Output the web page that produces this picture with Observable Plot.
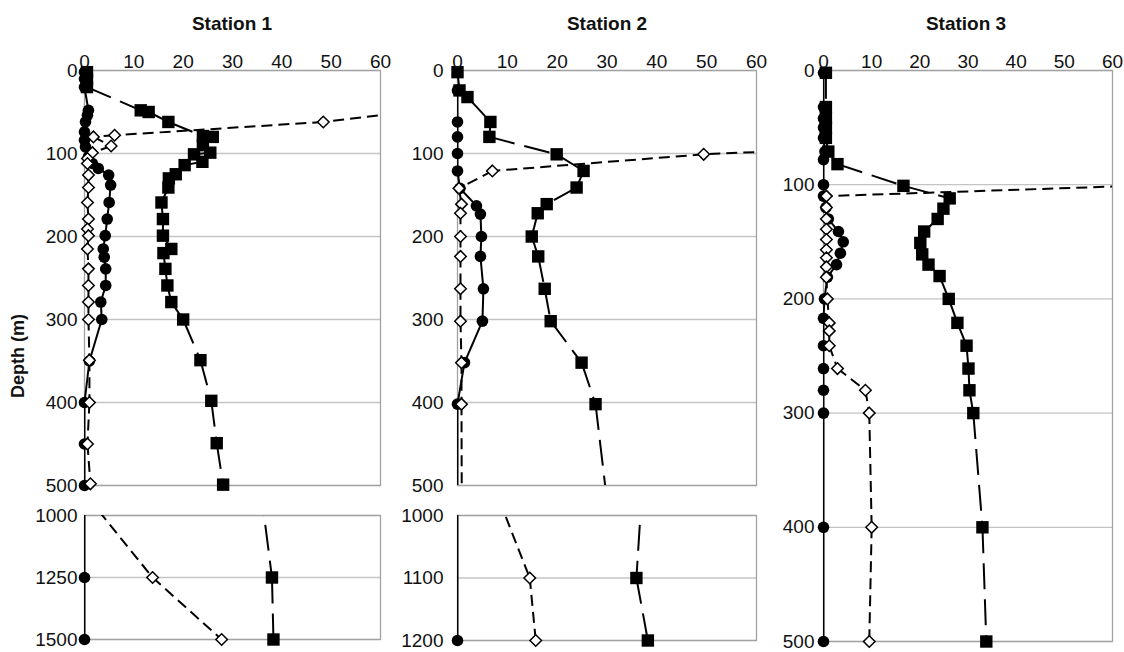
<!DOCTYPE html>
<html><head><meta charset="utf-8">
<script src="https://cdn.jsdelivr.net/npm/d3@7"></script>
<script src="https://cdn.jsdelivr.net/npm/@observablehq/plot@0.6"></script>
<style>
body{margin:0;background:#fff;font-family:Arial,"Liberation Sans",sans-serif;}
#wrap{position:relative;width:1124px;height:652px;overflow:hidden;background:#fff;}
.panel{position:absolute;}
.title{position:absolute;font-weight:bold;font-size:19px;transform:translateX(-50%);white-space:nowrap;color:#111;line-height:22px;}
.ylab{position:absolute;font-weight:bold;font-size:18px;transform:translate(-50%,-50%) rotate(-90deg);white-space:nowrap;color:#111;}
</style></head><body><div id="wrap"></div>
<script>
// ---- Data (depth in m, value) ----
const xTicks = [0, 10, 20, 30, 40, 50, 60];
const stationNames = ["Station 1", "Station 2", "Station 3"];

// Station 1
const s1SquareDepth = [2, 10, 20, 48, 50, 62, 79, 80, 90, 99, 101, 110, 114, 125, 130, 141, 159, 179, 199, 215, 220, 239, 259, 279, 300, 349, 398, 449, 499, 750, 1250, 1500];
const s1SquareValue = [0.5, 0.5, 0.5, 11.4, 13, 17, 24, 26, 24, 25.5, 22.2, 23.9, 20.3, 18.5, 17.1, 17, 15.6, 15.9, 15.9, 17.6, 16, 16.4, 16.8, 17.6, 20, 23.5, 25.7, 26.8, 28.1, 34.8, 38, 38.3];
const s1CircleDepth = [2, 10, 20, 48, 54, 62, 74, 84, 92, 104, 112, 118, 126, 138, 159, 179, 199, 215, 225, 239, 259, 279, 300, 350, 400, 450, 500, 1250, 1500];
const s1CircleValue = [0, 0, 0, 0.8, 0.6, 0.2, 0, 0, 0.2, 0.8, 1.6, 2.8, 4.9, 5.3, 5, 4.6, 4.2, 3.8, 4, 4.3, 4.3, 3.3, 3.5, 1, 0, 0, 0, 0, 0];
const s1DiamondDepth = [40, 62, 78, 80, 91, 99, 106, 112, 126, 141, 159, 179, 191, 199, 215, 239, 259, 279, 300, 349, 400, 450, 498, 930, 1250, 1500];
const s1DiamondValue = [80, 48.4, 6.1, 1.8, 5.4, 1.6, 0.6, 0.6, 0.8, 0.8, 0.6, 0.8, 0.6, 0.8, 0.6, 0.8, 0.8, 0.8, 0.8, 1, 1, 0.6, 1.2, 0.8, 13.8, 27.8];
const s1TopTicks = [0, 100, 200, 300, 400, 500];
const s1BottomTicks = [1000, 1250, 1500];

// Station 2
const s2SquareDepth = [2, 24, 32, 62, 80, 101, 121, 141, 161, 172, 200, 224, 263, 302, 352, 402, 900, 1100, 1200];
const s2SquareValue = [0, 0.4, 2, 6.6, 6.4, 19.9, 25.3, 23.9, 17.9, 16.1, 14.9, 16.2, 17.5, 18.7, 24.9, 27.7, 37.5, 35.9, 38.2];
const s2CircleDepth = [24, 62, 80, 100, 121, 142, 163, 173, 200, 224, 263, 302, 352, 402, 1200];
const s2CircleValue = [0, 0, 0, 0, 0, 0.5, 3.8, 4.6, 4.8, 4.6, 5.2, 5.0, 1.4, 0, 0];
const s2DiamondDepth = [93, 101, 121, 142, 161, 172, 200, 224, 263, 302, 352, 402, 825, 1100, 1200];
const s2DiamondValue = [80, 49.4, 7, 0.3, 0.8, 0.6, 0.6, 0.6, 0.6, 0.6, 0.8, 0.8, 1, 14.5, 15.7];
const s2TopTicks = [0, 100, 200, 300, 400, 500];
const s2BottomTicks = [1000, 1100, 1200];

// Station 3
const s3SquareDepth = [2, 32, 42, 50, 59, 71, 82, 101, 112, 121, 130, 141, 151, 161, 170, 180, 200, 221, 241, 261, 280, 300, 400, 500];
const s3SquareValue = [0.5, 0.5, 0.5, 0.5, 0.5, 1, 2.9, 16.6, 26.2, 24.9, 23.7, 20.9, 20.1, 20.5, 21.8, 24.1, 26, 27.8, 29.7, 30.1, 30.3, 31.1, 33, 33.8];
const s3CircleDepth = [2, 32, 42, 50, 59, 71, 78, 100, 110, 120, 130, 141, 150, 160, 170, 181, 200, 217, 241, 261, 280, 300, 400, 500];
const s3CircleValue = [0, 0, 0, 0, 0, 0.3, 0, 0, 0, 0.5, 1, 3.1, 4.1, 3.5, 2.7, 0.8, 0.2, 0, 0, 0, 0, 0, 0, 0];
const s3DiamondDepth = [89, 110, 120, 130, 139, 148, 157, 164, 172, 181, 200, 221, 228, 241, 261, 280, 300, 400, 500];
const s3DiamondValue = [150, 0.6, 0.6, 0.6, 0.6, 0.6, 0.6, 0.6, 0.6, 0.6, 0.8, 1.2, 1.2, 1.2, 2.9, 8.7, 9.5, 10, 9.5];
const s3Ticks = [0, 100, 200, 300, 400, 500];

// ---- helpers ----
function pts(depth, value) { return depth.map((d, i) => ({d, v: value[i]})); }
function segs(depth, value) {
  const s = [];
  for (let i = 0; i < depth.length - 1; i++) s.push({x1: value[i], y1: depth[i], x2: value[i + 1], y2: depth[i + 1]});
  return s;
}

function panel(cfg) {
  const [y0, y1] = cfg.yDomain;
  const inside = p => p.d >= y0 && p.d <= y1 && p.v >= 0 && p.v <= 60;
  const lineOpts = {x1: "x1", y1: "y1", x2: "x2", y2: "y2", stroke: "#000", strokeWidth: 2, clip: true};
  const marks = [
    Plot.gridY({ticks: cfg.yTicks, stroke: "#c4c4c4", strokeOpacity: 1, strokeWidth: 1.3}),
    Plot.frame({stroke: "#a2a2a2", strokeWidth: 1.3}),
    Plot.axisY({ticks: cfg.yTicks, tickSize: 0, tickPadding: cfg.pad, label: null, tickFormat: d => String(d)}),
    Plot.link(segs(cfg.circle[0], cfg.circle[1]), {...lineOpts}),
    Plot.link(segs(cfg.square[0], cfg.square[1]), {...lineOpts, strokeDasharray: "26,10"}),
    Plot.link(segs(cfg.diamond[0], cfg.diamond[1]), {...lineOpts, strokeDasharray: "11,6"}),
    Plot.dot(pts(cfg.circle[0], cfg.circle[1]).filter(inside), {x: "v", y: "d", r: 5.8, fill: "#000", stroke: "none"}),
    Plot.dot(pts(cfg.square[0], cfg.square[1]).filter(inside), {x: "v", y: "d", r: 7, symbol: "square", fill: "#000", stroke: "none"}),
    Plot.dot(pts(cfg.diamond[0], cfg.diamond[1]).filter(inside), {x: "v", y: "d", r: 5.2, symbol: "diamond2", fill: "#fff", stroke: "#000", strokeWidth: 1.5})
  ];
  if (cfg.showX) marks.push(Plot.axisX({anchor: "top", ticks: xTicks, tickSize: 0, tickPadding: 3, label: null}));
  const svg = Plot.plot({
    width: cfg.width, height: cfg.height,
    marginLeft: cfg.mL, marginRight: cfg.mR, marginTop: cfg.mT, marginBottom: cfg.mB,
    style: {fontSize: "19px", fontFamily: "Arial, 'Liberation Sans', sans-serif", background: "transparent", color: "#111", overflow: "visible"},
    x: {domain: [0, 60], axis: cfg.showX ? undefined : null},
    y: {domain: cfg.yDomain, reverse: true},
    marks
  });
  svg.classList.add("panel");
  svg.style.position = "absolute";
  svg.style.left = cfg.left + "px";
  svg.style.top = cfg.top + "px";
  svg.style.maxWidth = "none";
  document.getElementById("wrap").appendChild(svg);
}

// Station 1 top & bottom
panel({left: 0, top: 0, width: 392, height: 500, mL: 84, mR: 12, mT: 70, mB: 15, pad: 7,
  yDomain: [0, 500], yTicks: s1TopTicks, showX: true,
  circle: [s1CircleDepth, s1CircleValue], square: [s1SquareDepth, s1SquareValue], diamond: [s1DiamondDepth, s1DiamondValue]});
panel({left: 0, top: 495, width: 392, height: 157, mL: 84, mR: 12, mT: 20, mB: 13, pad: 7,
  yDomain: [1000, 1500], yTicks: s1BottomTicks, showX: false,
  circle: [s1CircleDepth, s1CircleValue], square: [s1SquareDepth, s1SquareValue], diamond: [s1DiamondDepth, s1DiamondValue]});
// Station 2 top & bottom
panel({left: 395, top: 0, width: 373, height: 500, mL: 62, mR: 12, mT: 70, mB: 15, pad: 14,
  yDomain: [0, 500], yTicks: s2TopTicks, showX: true,
  circle: [s2CircleDepth, s2CircleValue], square: [s2SquareDepth, s2SquareValue], diamond: [s2DiamondDepth, s2DiamondValue]});
panel({left: 395, top: 495, width: 373, height: 157, mL: 62, mR: 12, mT: 20, mB: 12, pad: 14,
  yDomain: [1000, 1200], yTicks: s2BottomTicks, showX: false,
  circle: [s2CircleDepth, s2CircleValue], square: [s2SquareDepth, s2SquareValue], diamond: [s2DiamondDepth, s2DiamondValue]});
// Station 3
panel({left: 770, top: 0, width: 354, height: 652, mL: 53, mR: 12, mT: 70, mB: 11, pad: 9,
  yDomain: [0, 500], yTicks: s3Ticks, showX: true,
  circle: [s3CircleDepth, s3CircleValue], square: [s3SquareDepth, s3SquareValue], diamond: [s3DiamondDepth, s3DiamondValue]});

// Titles and axis label
const wrap = document.getElementById("wrap");
[232, 607, 966].forEach((cx, i) => {
  const t = document.createElement("div");
  t.className = "title"; t.textContent = stationNames[i];
  t.style.left = cx + "px"; t.style.top = "13px";
  wrap.appendChild(t);
});
const yl = document.createElement("div");
yl.className = "ylab"; yl.textContent = "Depth (m)";
yl.style.left = "18px"; yl.style.top = "356px";
wrap.appendChild(yl);
</script>
</body></html>
